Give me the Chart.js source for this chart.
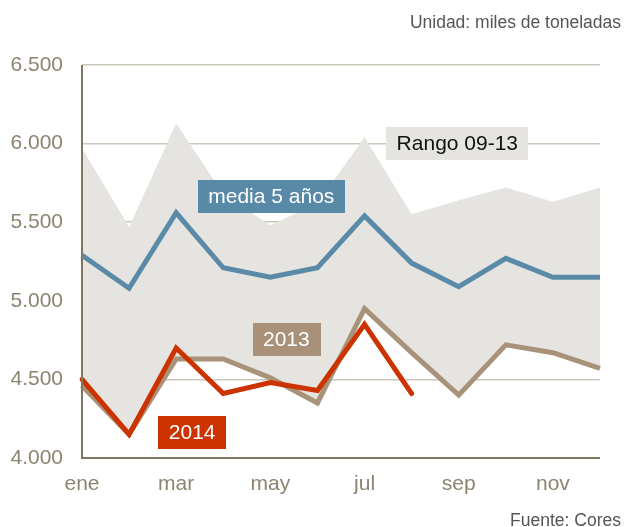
<!DOCTYPE html>
<html>
<head>
<meta charset="utf-8">
<script src="https://cdn.jsdelivr.net/npm/chart.js@4/dist/chart.umd.min.js"></script>
<style>
  html, body { margin: 0; padding: 0; background: #fff; }
  #wrap { position: relative; width: 624px; height: 527px; }
  canvas { display: block; }
</style>
</head>
<body>
<div id="wrap"><canvas id="c" width="624" height="527"></canvas></div>
<script>
// ---- Data ----
const meses = ['ene','feb','mar','abr','may','jun','jul','ago','sep','oct','nov','dic'];
const rangoMax = [5970, 5470, 6130, 5680, 5480, 5620, 6040, 5550, 5640, 5720, 5630, 5720];
const rangoMin = [4460, 4150, 4630, 4630, 4510, 4350, 4950, 4670, 4400, 4720, 4670, 4570];
const media5 = [5290, 5080, 5560, 5210, 5150, 5210, 5540, 5240, 5090, 5270, 5150, 5150];
const serie2013 = [4460, 4150, 4630, 4630, 4510, 4350, 4950, 4670, 4400, 4720, 4670, 4570];
const serie2014 = [4500, 4150, 4700, 4410, 4480, 4430, 4850, 4410, null, null, null, null];
const yTicks = [4000, 4500, 5000, 5500, 6000, 6500];

const FONT = '"Liberation Sans", Arial, Helvetica, sans-serif';
const TICK_COLOR = '#8c8471';
const AXIS_COLOR = '#7f7762';
const GRID_COLOR = '#cbc5ba';
const AREA_COLOR = '#e6e4e1';

const etiquetas = [
  { text: 'media 5 años', x: 4.02, y: 5663, bg: '#5889a6', color: '#ffffff' },
  { text: 'Rango 09-13', x: 7.97, y: 6000, bg: AREA_COLOR, color: '#111111' },
  { text: '2013', x: 4.34, y: 4754, bg: '#a89178', color: '#ffffff' },
  { text: '2014', x: 2.34, y: 4162, bg: '#cc3300', color: '#ffffff' }
];

function xAt(xs, v) {
  const i = Math.floor(v);
  const f = v - i;
  const a = xs.getPixelForValue(i);
  const b = xs.getPixelForValue(Math.min(i + 1, meses.length - 1));
  return a + f * (b - a);
}

const overlay = {
  id: 'overlay',
  afterDatasetsDraw(chart) {
    const ctx = chart.ctx;
    const ca = chart.chartArea;
    const xs = chart.scales.x, ys = chart.scales.y;
    ctx.save();
    // axes
    ctx.strokeStyle = AXIS_COLOR;
    ctx.lineWidth = 2;
    ctx.beginPath();
    ctx.moveTo(ca.left, ca.top);
    ctx.lineTo(ca.left, ca.bottom);
    ctx.lineTo(ca.right, ca.bottom);
    ctx.stroke();
    // label boxes
    ctx.font = '21px ' + FONT;
    ctx.textAlign = 'center';
    ctx.textBaseline = 'middle';
    etiquetas.forEach(e => {
      const cx = xAt(xs, e.x);
      const cy = ys.getPixelForValue(e.y);
      const w = ctx.measureText(e.text).width + 21;
      const h = 33;
      ctx.fillStyle = e.bg;
      ctx.fillRect(Math.round(cx - w / 2), Math.round(cy - h / 2), Math.round(w), h);
      ctx.fillStyle = e.color;
      ctx.fillText(e.text, cx, cy + 1);
    });
    // texts
    ctx.font = '17.5px ' + FONT;
    ctx.fillStyle = '#555555';
    ctx.textAlign = 'right';
    ctx.textBaseline = 'alphabetic';
    ctx.fillText('Unidad: miles de toneladas', 621, 28);
    ctx.fillText('Fuente: Cores', 621, 526);
    ctx.restore();
  }
};

new Chart(document.getElementById('c'), {
  type: 'line',
  data: {
    labels: meses,
    datasets: [
      { label: '2014', data: serie2014, borderColor: '#cc3300', borderWidth: 5, pointRadius: 0,
        fill: false, tension: 0, borderCapStyle: 'round', borderJoinStyle: 'miter', spanGaps: false },
      { label: '2013', data: serie2013, borderColor: '#a8927a', borderWidth: 5, pointRadius: 0,
        fill: false, tension: 0, borderCapStyle: 'butt', borderJoinStyle: 'miter' },
      { label: 'media 5 años', data: media5, borderColor: '#5a8aa8', borderWidth: 5, pointRadius: 0,
        fill: false, tension: 0, borderCapStyle: 'butt', borderJoinStyle: 'miter' },
      { label: 'Rango max', data: rangoMax, borderColor: 'rgba(0,0,0,0)', borderWidth: 0, pointRadius: 0,
        backgroundColor: AREA_COLOR, fill: '+1', tension: 0 },
      { label: 'Rango min', data: rangoMin, borderColor: 'rgba(0,0,0,0)', borderWidth: 0, pointRadius: 0,
        fill: false, tension: 0 }
    ]
  },
  options: {
    responsive: false,
    animation: false,
    devicePixelRatio: 1,
    layout: { padding: { top: 65, right: 24, bottom: 0, left: 0 } },
    plugins: { legend: { display: false }, tooltip: { enabled: false } },
    scales: {
      x: {
        type: 'category',
        offset: false,
        grid: { display: false, drawTicks: false },
        border: { display: false },
        afterFit(s) { s.height = 69; },
        ticks: {
          autoSkip: false, maxRotation: 0, minRotation: 0, padding: 14,
          color: TICK_COLOR, font: { family: FONT, size: 21 },
          callback(v, i) { return i % 2 === 0 ? meses[i] : ''; }
        }
      },
      y: {
        min: 4000, max: 6500,
        afterFit(s) { s.width = 82; },
        afterBuildTicks(s) { s.ticks = yTicks.map(v => ({ value: v })); },
        grid: { color: GRID_COLOR, lineWidth: 1.5, drawTicks: false },
        border: { display: false },
        ticks: {
          padding: 19, color: TICK_COLOR, font: { family: FONT, size: 21 },
          callback(v) { return (v / 1000).toFixed(3); }
        }
      }
    }
  },
  plugins: [overlay]
});
</script>
</body>
</html>
